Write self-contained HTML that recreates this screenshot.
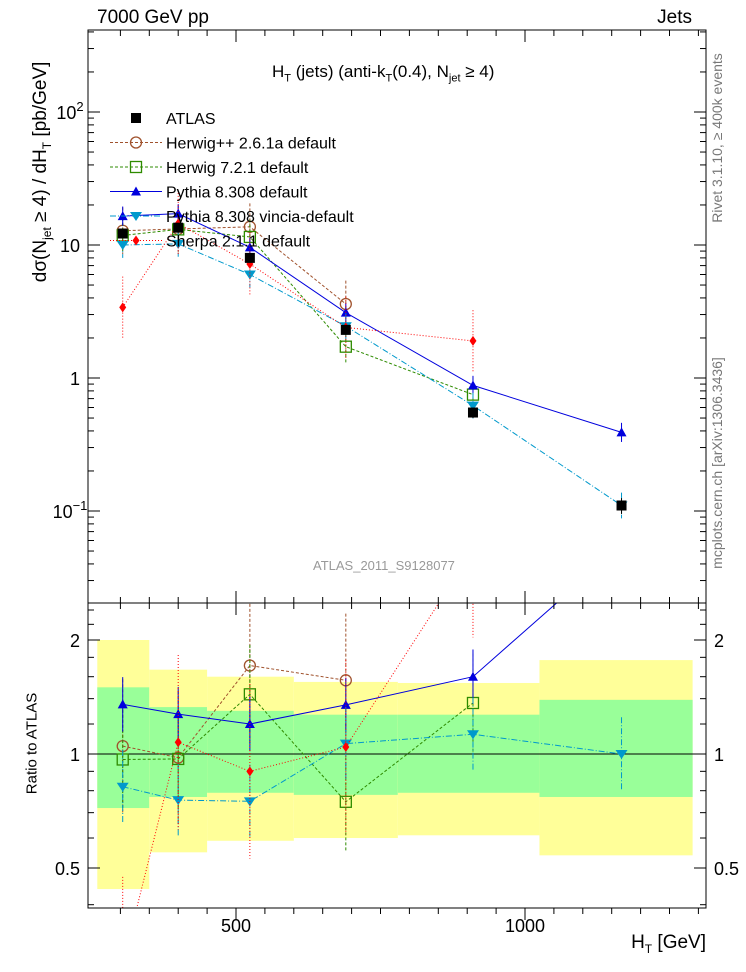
<!DOCTYPE html>
<html><head><meta charset="utf-8"><style>
html,body{margin:0;background:#fff;width:746px;height:972px;overflow:hidden;position:relative}
svg{display:block;font-family:"Liberation Sans",sans-serif}
</style></head><body>
<svg id="c" width="746" height="972"></svg>
<script>
const xs=[304,400,524,690,910,1167];
const atlas=[12.2,13.5,8.0,2.3,0.55,0.11];
const atlasErr=[0.5,0.6,0.5,0.15,0.05,0.015];
const herwigpp=[12.8,13.2,13.7,3.6];
const herwig7=[11.8,13.1,11.5,1.72,0.75];
const pythia=[16.5,17.2,9.6,3.1,0.88,0.39];
const vincia=[10.0,10.2,6.0,2.45,0.62,0.11];
const sherpa=[3.4,14.5,7.2,2.4,1.9];
const binEdges=[260,350,450,600,780,1025,1290];
const bandYellowUp=[2.0,1.67,1.6,1.55,1.54,1.77];
const bandYellowDn=[0.44,0.55,0.59,0.6,0.61,0.54];
const bandGreenUp=[1.5,1.33,1.3,1.27,1.27,1.39];
const bandGreenDn=[0.72,0.77,0.79,0.78,0.79,0.77];
const yTicksMain=[[100,"10","2"],[10,"10",""],[1,"1",""],[0.1,"10","−1"]];

const NS="http://www.w3.org/2000/svg",S=document.getElementById('c');
function el(t,a,p){const e=document.createElementNS(NS,t);for(const k in a)e.setAttribute(k,a[k]);(p||S).appendChild(e);return e;}
const L=88,R=706,T=30,B=603,RT=603,RB=908;
const X=v=>236+(v-500)*0.578;
const Y=v=>378-133*Math.log10(v);
const YR=r=>754-114*Math.log2(r);
const defs=el('defs',{});
const c1=el('clipPath',{id:'cm'},defs);el('rect',{x:L,y:T,width:R-L,height:B-T},c1);
const c2=el('clipPath',{id:'cr'},defs);el('rect',{x:L,y:RT,width:R-L,height:RB-RT},c2);
const gm=el('g',{'clip-path':'url(#cm)'});
const gr=el('g',{'clip-path':'url(#cr)'});
for(let i=0;i<6;i++){
 const x0=X(binEdges[i]),x1=X(binEdges[i+1]);
 const y=el('rect',{x:x0,y:YR(bandYellowUp[i]),width:x1-x0,height:YR(bandYellowDn[i])-YR(bandYellowUp[i]),fill:'#ffff99'},gr);
 
 const g=el('rect',{x:x0,y:YR(bandGreenUp[i]),width:x1-x0,height:YR(bandGreenDn[i])-YR(bandGreenUp[i]),fill:'#99ff99'},gr);
 
}
el('line',{x1:L,x2:R,y1:YR(1),y2:YR(1),stroke:'#000','stroke-width':1},gr);
const series=[
 {n:'herwigpp',v:herwigpp,c:'#a0522d',d:'3,2',m:'circle',lab:'Herwig++ 2.6.1a default',e:0.5},
 {n:'herwig7',v:herwig7,c:'#2e8b00',d:'3,2',m:'square',lab:'Herwig 7.2.1 default',e:0.35},
 {n:'pythia',v:pythia,c:'#0000dd',d:'',m:'tri',lab:'Pythia 8.308 default',e:0.18},
 {n:'vincia',v:vincia,c:'#0099cc',d:'6,2,1,2',m:'dtri',lab:'Pythia 8.308 vincia-default',e:0.25},
 {n:'sherpa',v:sherpa,c:'#ff0000',d:'1,2',m:'dia',lab:'Sherpa 2.1.1 default',e:0.7},
];
function marker(m,x,y,c,g){
 let e;
 if(m=='circle')e=el('circle',{cx:x,cy:y,r:5.5,fill:'none',stroke:c,'stroke-width':1.3},g);
 else if(m=='square')e=el('rect',{x:x-5.5,y:y-5.5,width:11,height:11,fill:'none',stroke:c,'stroke-width':1.3},g);
 else if(m=='tri')e=el('polygon',{points:`${x},${y-5} ${x-5},${y+4} ${x+5},${y+4}`,fill:c},g);
 else if(m=='dtri')e=el('polygon',{points:`${x},${y+5} ${x-6},${y-4} ${x+6},${y-4}`,fill:c},g);
 else if(m=='dia')e=el('polygon',{points:`${x},${y-5} ${x-3.5},${y} ${x},${y+5} ${x+3.5},${y}`,fill:c},g);
 else e=el('rect',{x:x-5,y:y-5,width:10,height:10,fill:c},g);
 return e;
}
series.forEach(s=>{
 const pm=s.v.map((v,i)=>X(xs[i])+','+Y(v)).join(' ');
 const l1=el('polyline',{points:pm,fill:'none',stroke:s.c,'stroke-width':1,'stroke-dasharray':s.d},gm);
 
 const pr=s.v.map((v,i)=>X(xs[i])+','+YR(v/atlas[i])).join(' ');
 const l2=el('polyline',{points:pr,fill:'none',stroke:s.c,'stroke-width':1,'stroke-dasharray':s.d},gr);
 
 s.v.forEach((v,i)=>{
  const x=X(xs[i]);
  el('line',{x1:x,x2:x,y1:Y(v*(1+s.e)),y2:Y(v/(1+s.e)),stroke:s.c,'stroke-dasharray':s.d},gm);
  const r=v/atlas[i];
  el('line',{x1:x,x2:x,y1:YR(r*(1+s.e)),y2:YR(r/(1+s.e)),stroke:s.c,'stroke-dasharray':s.d},gr);
  const a=marker(s.m,x,Y(v),s.c,gm);
  const b=marker(s.m,x,YR(r),s.c,gr);
 });
});
atlas.forEach((v,i)=>{
 const x=X(xs[i]);
 el('line',{x1:x,x2:x,y1:Y(v+atlasErr[i]),y2:Y(v-atlasErr[i]),stroke:'#000'},gm);
 const a=marker('sq',x,Y(v),'#000',gm);
});
el('rect',{x:L,y:T,width:R-L,height:B-T,fill:'none',stroke:'#000','stroke-width':1});
el('rect',{x:L,y:RT,width:R-L,height:RB-RT,fill:'none',stroke:'#000','stroke-width':1});
for(let v=300;v<=1300;v+=50){const x=X(v);const big=v%500==0;const h=big?12:6;
 [[B,-1],[RB,-1],[RT,1],[T,1]].forEach(([y,d])=>el('line',{x1:x,x2:x,y1:y,y2:y+d*h*(y==T||y==RT?-1:1)*-1,stroke:'#000'}));
}
[500,1000].forEach(v=>{const t=el('text',{x:X(v),y:932,'text-anchor':'middle','font-size':18});t.textContent=v;});
for(let d=-2;d<=2;d++)for(let k=1;k<10;k++){const v=k*Math.pow(10,d);const y=Y(v);if(y<T||y>B)continue;const h=k==1?12:6;
 el('line',{x1:L,x2:L+h,y1:y,y2:y,stroke:'#000'});el('line',{x1:R,x2:R-h,y1:y,y2:y,stroke:'#000'});}
yTicksMain.forEach(([v,b,e])=>{const t=el('text',{x:e?70:80,y:Y(v)+7,'text-anchor':e?'middle':'end','font-size':18});t.textContent=b;
 if(e){const s=el('tspan',{dy:-8,'font-size':13},t);s.textContent=e;}
 });
[0.4,0.5,0.6,0.7,0.8,0.9,1,1.2,1.4,1.6,1.8,2,2.2,2.4].forEach(v=>{const y=YR(v);const big=(v==0.5||v==1||v==2);const h=big?12:6;
 el('line',{x1:L,x2:L+h,y1:y,y2:y,stroke:'#000'});el('line',{x1:R,x2:R-h,y1:y,y2:y,stroke:'#000'});});
[[2,'2'],[1,'1'],[0.5,'0.5']].forEach(([v,s])=>{[[80,'end'],[714,'start']].forEach(([x,a])=>{const t=el('text',{x:x,y:YR(v)+7,'text-anchor':a,'font-size':18});t.textContent=s;});});
const leg=[['ATLAS','#000','','sq']].concat(series.map(s=>[s.lab,s.c,s.d,s.m]));
leg.forEach((l,i)=>{const y=118+i*24.5;const g=el('g',{});
 if(i>0)el('line',{x1:110,x2:162,y1:y,y2:y,stroke:l[1],'stroke-dasharray':l[2]},g);
 marker(l[3],136,y,l[1],g);const t=el('text',{x:166,y:y+6,'font-size':16},g);t.textContent=l[0];});
</script>
<div style="position:absolute;left:0;top:0;width:746px;height:972px;overflow:hidden;font-family:'Liberation Sans',sans-serif;pointer-events:none">
<div style="position:absolute;left:97px;top:7px;font-size:19px">7000 GeV pp</div>
<div style="position:absolute;right:54px;top:7px;font-size:19px">Jets</div>
<div style="position:absolute;left:272px;top:62px;font-size:17px">H<sub style="font-size:11px">T</sub> (jets) (anti-k<sub style="font-size:11px">T</sub>(0.4), N<sub style="font-size:11px">jet</sub> ≥ 4)</div>
<div style="position:absolute;left:313px;top:558px;font-size:13px;color:#999">ATLAS_2011_S9128077</div>
<div style="position:absolute;left:-138px;top:160px;width:360px;text-align:center;transform:rotate(-90deg);font-size:19px;white-space:nowrap">dσ(N<sub style="font-size:12px">jet</sub> ≥ 4) / dH<sub style="font-size:12px">T</sub> [pb/GeV]</div>
<div style="position:absolute;left:-38px;top:735px;width:140px;text-align:center;transform:rotate(-90deg);font-size:15px;white-space:nowrap">Ratio to ATLAS</div>
<div style="position:absolute;right:40px;top:932px;font-size:19px">H<sub style="font-size:12px">T</sub> [GeV]</div>
<div style="position:absolute;left:617px;top:130px;width:200px;text-align:center;transform:rotate(-90deg);font-size:14px;color:#777;white-space:nowrap">Rivet 3.1.10, ≥ 400k events</div>
<div style="position:absolute;left:567px;top:455px;width:300px;text-align:center;transform:rotate(-90deg);font-size:14px;color:#777;white-space:nowrap">mcplots.cern.ch [arXiv:1306.3436]</div>
</div>
</body></html>
